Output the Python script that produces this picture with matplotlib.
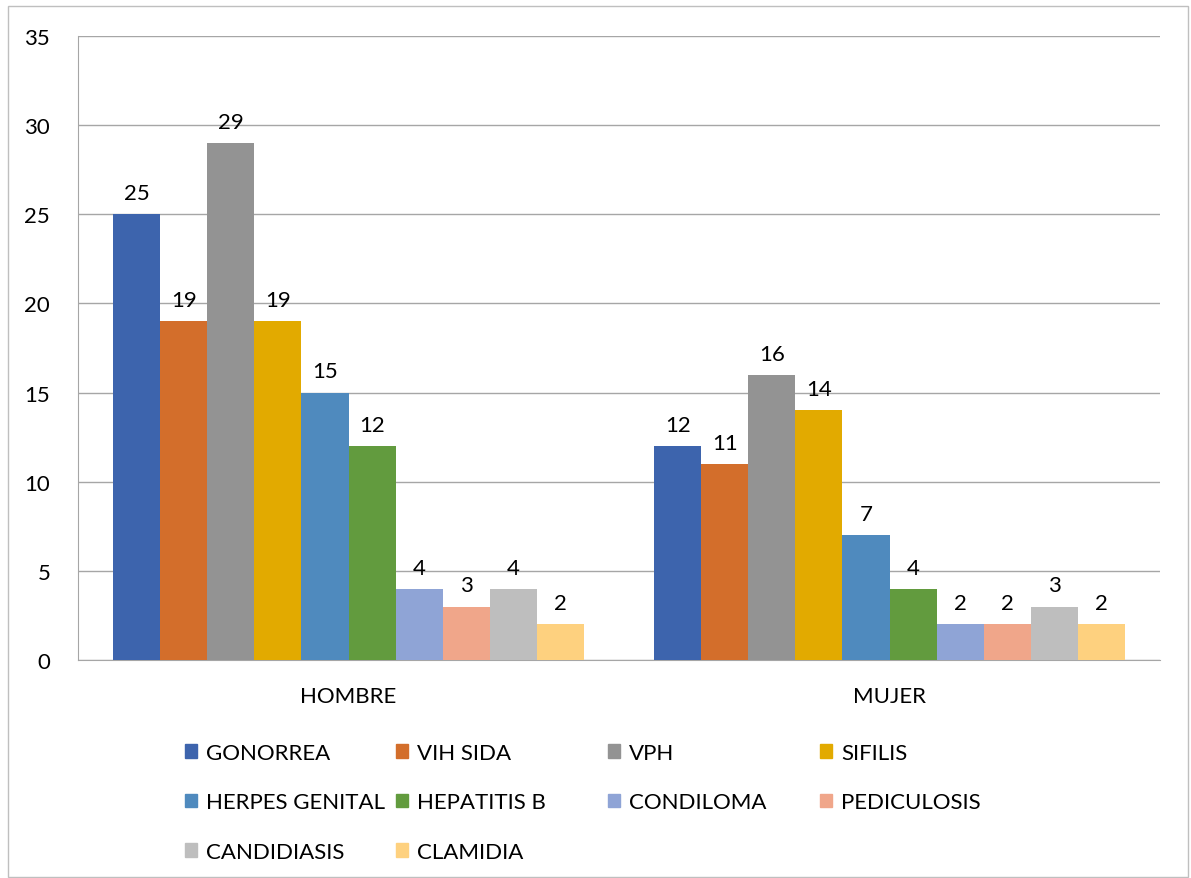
import numpy as np
import matplotlib
matplotlib.use("Agg")
import matplotlib.pyplot as plt
from matplotlib.patches import Rectangle, Patch

plt.rcParams['font.family'] = ['Lato', 'DejaVu Sans']

# Data
groups = ['HOMBRE', 'MUJER']
diseases = ['GONORREA', 'VIH SIDA', 'VPH', 'SIFILIS', 'HERPES GENITAL',
            'HEPATITIS B', 'CONDILOMA', 'PEDICULOSIS', 'CANDIDIASIS', 'CLAMIDIA']
hombre = [25, 19, 29, 19, 15, 12, 4, 3, 4, 2]
mujer = [12, 11, 16, 14, 7, 4, 2, 2, 3, 2]
colors = ['#3D64AD', '#D36E2B', '#939393', '#E2AA00', '#4F8ABE',
          '#629B3E', '#8FA4D6', '#F0A68A', '#BEBEBE', '#FED17F']

values = np.array([hombre, mujer])

fig = plt.figure(figsize=(11.91, 8.79), dpi=100)
ax = fig.add_axes([78/1191, 1 - 661/879, (1160 - 78)/1191, (661 - 37)/879])

x = np.arange(len(groups))
w = 0.087
n = len(diseases)
for i, name in enumerate(diseases):
    pos = x + (i - (n - 1) / 2) * w
    bars = ax.bar(pos, values[:, i], width=w, color=colors[i], label=name, zorder=3)
    for b, v in zip(bars, values[:, i]):
        ax.annotate(str(v), (b.get_x() + b.get_width() / 2, v),
                    xytext=(0, 8), textcoords='offset points',
                    ha='center', va='bottom', fontsize=16)

ax.set_xlim(-0.5, 1.5)
ax.set_ylim(0, 35)
ax.set_yticks(range(0, 36, 5))
ax.set_xticks(x)
ax.set_xticklabels(groups)
ax.tick_params(axis='y', length=0, pad=20, labelsize=16)
ax.tick_params(axis='x', length=0, pad=19, labelsize=16)
ax.grid(axis='y', color='#A6A6A6', linewidth=1, zorder=0)
for s in ['top', 'right']:
    ax.spines[s].set_visible(False)
ax.spines['left'].set_color('#A6A6A6')
ax.spines['bottom'].set_color('#A6A6A6')

# legend: four columns, row-major order
col_x = [185, 396, 608, 820]
for c in range(4):
    idx = list(range(c, n, 4))
    handles = [Patch(color=colors[k]) for k in idx]
    labels = [diseases[k] for k in idx]
    fig.legend(handles, labels, loc='upper left',
               bbox_to_anchor=(col_x[c] / 1191, 1 - 744 / 879),
               frameon=False, fontsize=16, borderpad=0, borderaxespad=0,
               handlelength=0.55, handleheight=0.55, handletextpad=0.4,
               labelspacing=1.32)

fig.patches.append(Rectangle((8/1191, 1/879), 1180/1191, 871/879,
                             transform=fig.transFigure, fill=False,
                             edgecolor='#BFBFBF', linewidth=1))

fig.savefig('out.png', dpi=100)
